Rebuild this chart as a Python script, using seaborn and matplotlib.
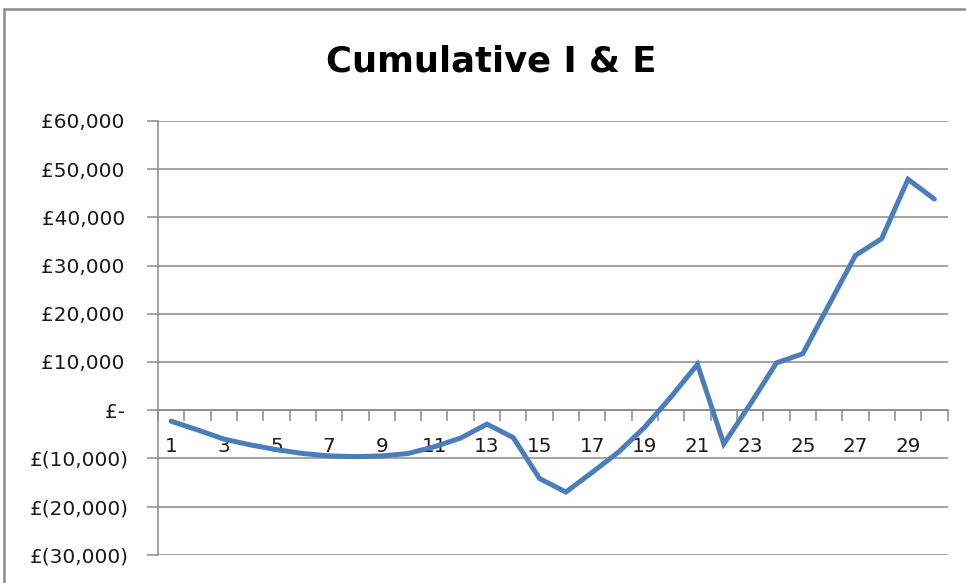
import matplotlib
matplotlib.use("Agg")
import matplotlib.pyplot as plt
from matplotlib.patches import Rectangle
from matplotlib.ticker import FixedLocator, FuncFormatter
import seaborn as sns
import pandas as pd

# Cumulative income & expenditure by period
periods = list(range(1, 31))
cumulative = [-2300, -4100, -6000, -7200, -8200, -9000, -9500, -9650, -9500, -9000,
              -7600, -5800, -2900, -5700, -14200, -17000, -12900, -8700, -3500, 2800,
              9500, -7000, 1200, 9800, 11700, 21900, 32100, 35600, 47900, 43800]
y_ticks = list(range(-30000, 60001, 10000))
title = "Cumulative I & E"

df = pd.DataFrame({"period": periods, "cumulative": cumulative})

sns.set_style("white")
plt.rcParams["font.family"] = ["DejaVu Sans"]

W, H = 966, 583
fig = plt.figure(figsize=(W / 100, H / 100), dpi=100)
fig.patch.set_facecolor("white")

left, right, top, bottom = 158, 947.5, 121, 554.7
ax = fig.add_axes([left / W, 1 - bottom / H, (right - left) / W, (bottom - top) / H])

grid_c = "#8a8a8a"
sns.lineplot(data=df, x="period", y="cumulative", ax=ax, color="#4a7ebb",
             linewidth=3.6, solid_joinstyle="miter", zorder=3)

ax.set_xlim(0.5, 30.5)
ax.set_ylim(y_ticks[0], y_ticks[-1])
ax.set_xlabel("")
ax.set_ylabel("")

# horizontal gridlines
ax.yaxis.set_major_locator(FixedLocator(y_ticks))
ax.grid(axis="y", color=grid_c, linewidth=1.1)
ax.grid(axis="x", visible=False)
ax.set_axisbelow(True)


def money(v, pos):
    if v == 0:
        return "£-\u2009"
    if v < 0:
        return f"£({abs(v):,.0f})"
    return f"£{v:,.0f}\u2009"


ax.yaxis.set_major_formatter(FuncFormatter(money))
ax.tick_params(axis="y", which="major", direction="out", length=8, width=1.1,
               color=grid_c, labelsize=14.4, labelcolor="#1a1a1a", pad=13, left=True)

# category axis crossing at zero
for s in ["top", "right"]:
    ax.spines[s].set_visible(False)
ax.spines["left"].set_color(grid_c)
ax.spines["left"].set_linewidth(1.1)
ax.spines["bottom"].set_position(("data", 0))
ax.spines["bottom"].set_color(grid_c)
ax.spines["bottom"].set_linewidth(1.1)

ax.xaxis.set_major_locator(FixedLocator(periods[::2]))
ax.xaxis.set_major_formatter(FuncFormatter(lambda v, p: f"{int(v)}"))
ax.xaxis.set_minor_locator(FixedLocator([p + 0.5 for p in range(0, 31)]))
ax.tick_params(axis="x", which="major", length=0, labelsize=14.4,
               labelcolor="#1a1a1a", pad=19.5, bottom=True)
ax.tick_params(axis="x", which="minor", direction="out", length=8, width=1.1,
               color=grid_c, bottom=True)

fig.text(491.5 / W, 1 - 72 / H, title, ha="center", va="baseline",
         fontsize=25.5, fontweight="bold", color="black")

# chart-area frame
fig.patches.append(Rectangle((4 / W, -0.1), 1.2, (H - 9) / H + 0.1,
                             transform=fig.transFigure, fill=False,
                             edgecolor="#8c8c8c", linewidth=1.8))

fig.savefig("out.png", dpi=100)
